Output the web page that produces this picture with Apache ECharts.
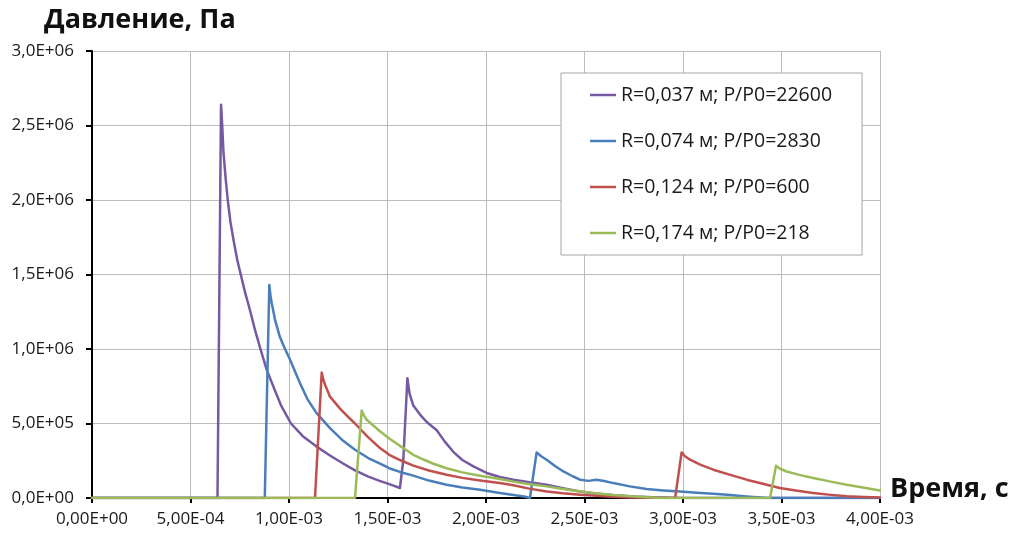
<!DOCTYPE html>
<html>
<head>
<meta charset="utf-8">
<script src="https://cdn.jsdelivr.net/npm/echarts@6/dist/echarts.min.js"></script>
<style>
html,body{margin:0;padding:0;background:#fff;}
#chart{width:1029px;height:537px;}
</style>
</head>
<body>
<div id="chart"></div>
<script>
// Time values in milliseconds (converted to seconds below), pressure in Pa
const seriesNames = [
  'R=0,037 м; P/P0=22600',
  'R=0,074 м; P/P0=2830',
  'R=0,124 м; P/P0=600',
  'R=0,174 м; P/P0=218'
];
const t037 = [0, 0.637, 0.655, 0.661, 0.667, 0.678, 0.689, 0.703, 0.72, 0.737, 0.755, 0.777, 0.80, 0.827, 0.855, 0.887, 0.92, 0.96, 1.01, 1.07, 1.14, 1.208, 1.27, 1.335, 1.40, 1.46, 1.509, 1.563, 1.58, 1.601, 1.612, 1.631, 1.665, 1.699, 1.75, 1.79, 1.834, 1.88, 1.936, 2.003, 2.07, 2.139, 2.22, 2.308, 2.39, 2.477, 2.56, 2.65, 2.75, 2.85, 3.0, 4.0];
const p037 = [0, 0, 2.64e6, 2.5e6, 2.33e6, 2.15e6, 2.0e6, 1.85e6, 1.72e6, 1.6e6, 1.5e6, 1.38e6, 1.27e6, 1.13e6, 1.0e6, 8.6e5, 7.5e5, 6.2e5, 5.0e5, 4.15e5, 3.45e5, 2.85e5, 2.35e5, 1.85e5, 1.45e5, 1.15e5, 9.3e4, 6.7e4, 2.5e5, 8.04e5, 7.0e5, 6.2e5, 5.6e5, 5.1e5, 4.55e5, 3.8e5, 3.1e5, 2.55e5, 2.12e5, 1.68e5, 1.41e5, 1.23e5, 1.05e5, 8.9e4, 6.6e4, 4.4e4, 3.0e4, 1.8e4, 1.0e4, 5e3, 0, 0];

const t074 = [0, 0.877, 0.900, 0.906, 0.912, 0.93, 0.954, 0.98, 1.005, 1.03, 1.056, 1.095, 1.14, 1.208, 1.27, 1.335, 1.40, 1.462, 1.509, 1.563, 1.631, 1.71, 1.8, 1.88, 1.97, 2.07, 2.14, 2.2, 2.223, 2.257, 2.28, 2.308, 2.35, 2.393, 2.44, 2.477, 2.52, 2.56, 2.60, 2.646, 2.73, 2.815, 2.9, 2.985, 3.07, 3.154, 3.24, 3.323, 3.43, 4.0];
const p074 = [0, 0, 1.43e6, 1.36e6, 1.31e6, 1.19e6, 1.08e6, 1.0e6, 9.3e5, 8.5e5, 7.7e5, 6.6e5, 5.7e5, 4.69e5, 3.9e5, 3.24e5, 2.7e5, 2.3e5, 2.0e5, 1.75e5, 1.5e5, 1.17e5, 8.9e4, 7.0e4, 5.6e4, 3.4e4, 2.0e4, 8e3, 0, 3.06e5, 2.8e5, 2.57e5, 2.15e5, 1.78e5, 1.46e5, 1.23e5, 1.15e5, 1.22e5, 1.14e5, 1.0e5, 7.8e4, 6.0e4, 5.1e4, 4.4e4, 3.6e4, 2.9e4, 2.0e4, 1.0e4, 0, 0];

const t124 = [0, 1.132, 1.166, 1.175, 1.183, 1.208, 1.259, 1.30, 1.335, 1.40, 1.462, 1.509, 1.563, 1.631, 1.71, 1.8, 1.88, 1.97, 2.07, 2.139, 2.22, 2.308, 2.39, 2.477, 2.58, 2.7, 2.82, 2.96, 2.993, 3.01, 3.036, 3.09, 3.154, 3.24, 3.323, 3.41, 3.492, 3.58, 3.661, 3.75, 3.831, 3.92, 4.0];
const p124 = [0, 0, 8.42e5, 7.9e5, 7.6e5, 6.8e5, 6.0e5, 5.45e5, 5.0e5, 4.1e5, 3.35e5, 2.9e5, 2.55e5, 2.17e5, 1.85e5, 1.56e5, 1.35e5, 1.18e5, 1.0e5, 8.5e4, 6.3e4, 4.4e4, 3.2e4, 2.2e4, 1.3e4, 5e3, 2e3, 0, 3.06e5, 2.8e5, 2.57e5, 2.22e5, 1.9e5, 1.55e5, 1.23e5, 9.4e4, 6.7e4, 4.9e4, 3.4e4, 2.1e4, 1.1e4, 6e3, 3e3];

const t174 = [0, 1.335, 1.369, 1.38, 1.394, 1.425, 1.46, 1.509, 1.563, 1.631, 1.68, 1.733, 1.8, 1.88, 1.97, 2.07, 2.139, 2.22, 2.308, 2.39, 2.477, 2.56, 2.65, 2.77, 2.9, 3.442, 3.472, 3.49, 3.526, 3.59, 3.661, 3.75, 3.831, 3.92, 4.0];
const p174 = [0, 0, 5.87e5, 5.55e5, 5.25e5, 4.9e5, 4.5e5, 4.0e5, 3.5e5, 2.9e5, 2.6e5, 2.3e5, 2.0e5, 1.72e5, 1.5e5, 1.27e5, 1.1e5, 9.3e4, 7.8e4, 6.0e4, 4.4e4, 3.1e4, 2.0e4, 9e3, 0, 0, 2.16e5, 1.98e5, 1.78e5, 1.55e5, 1.34e5, 1.1e5, 8.9e4, 6.9e4, 5.1e4];

const colors = ['#7559a3', '#4a7ebb', '#c0504d', '#9bbb59'];
const times = [t037, t074, t124, t174];
const pressures = [p037, p074, p124, p174];

function sci(v, d) {
  const s = Number(v).toExponential(d);
  const parts = s.split('e');
  const mant = parts[0].replace('.', ',');
  let ex = parseInt(parts[1], 10);
  const sign = ex < 0 ? '-' : '+';
  ex = Math.abs(ex);
  return mant + 'E' + sign + (ex < 10 ? '0' + ex : '' + ex);
}

const series = seriesNames.map((name, i) => ({
  name: name,
  type: 'line',
  data: times[i].map((t, k) => [t * 1e-3, pressures[i][k]]),
  symbol: 'none',
  smooth: false,
  lineStyle: { width: 2.5, color: colors[i], join: 'round', cap: 'round' },
  itemStyle: { color: colors[i] },
  z: 2 + i
}));

const chart = echarts.init(document.getElementById('chart'), null, { renderer: 'canvas' });
chart.setOption({
  animation: false,
  backgroundColor: '#ffffff',
  grid: { left: 92, right: 149, top: 51, bottom: 39, containLabel: false },
  xAxis: {
    type: 'value',
    min: 0,
    max: 0.004,
    interval: 0.0005,
    axisLine: { show: true, onZero: false, lineStyle: { color: '#000', width: 2 } },
    axisTick: { show: true, inside: false, length: 5, lineStyle: { color: '#000', width: 2 } },
    splitLine: { show: true, lineStyle: { color: '#bcbcbc', width: 1 } },
    axisLabel: {
      margin: 13,
      color: '#1a1a1a',
      fontSize: 17,
      fontFamily: 'Open Sans',
      formatter: v => sci(v, 2)
    }
  },
  yAxis: {
    type: 'value',
    min: 0,
    max: 3e6,
    interval: 5e5,
    axisLine: { show: true, lineStyle: { color: '#000', width: 2 } },
    axisTick: { show: true, inside: false, length: 6, lineStyle: { color: '#000', width: 2 } },
    splitLine: { show: true, lineStyle: { color: '#bcbcbc', width: 1 } },
    axisLabel: {
      margin: 18,
      color: '#1a1a1a',
      fontSize: 17,
      fontFamily: 'Open Sans',
      formatter: v => sci(v, 1)
    }
  },
  legend: {
    orient: 'vertical',
    left: 561,
    top: 73,
    padding: [12, 30, 12, 29],
    backgroundColor: '#ffffff',
    borderColor: '#a6a6a6',
    borderWidth: 1,
    itemWidth: 26,
    itemHeight: 3,
    itemGap: 26,
    icon: 'path://M0,0L26,0L26,2.5L0,2.5Z',
    textStyle: { fontSize: 19.5, fontFamily: 'Open Sans', color: '#1a1a1a', lineHeight: 20 },
    data: seriesNames
  },
  graphic: [
    {
      type: 'text',
      left: 44,
      top: 7,
      style: { text: 'Давление, Па', font: 'bold 27px "Open Sans"', fill: '#111' }
    },
    {
      type: 'text',
      left: 890,
      top: 476,
      style: { text: 'Время, с', font: 'bold 27px "Open Sans"', fill: '#111' }
    }
  ],
  series: series
});
</script>
</body>
</html>
